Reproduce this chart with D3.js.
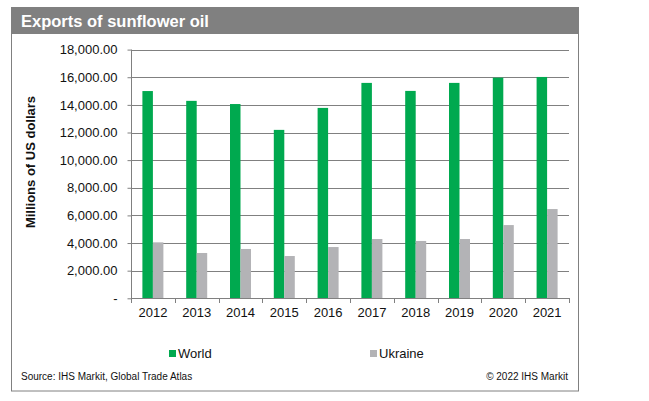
<!DOCTYPE html>
<html><head><meta charset="utf-8">
<script src="https://cdn.jsdelivr.net/npm/d3@7/dist/d3.min.js"></script>
<style>body{margin:0;background:#fff;font-family:"Liberation Sans",Arial,sans-serif;}</style>
</head><body><svg id="c" width="649" height="401"></svg>
<script>
const years = ["2012","2013","2014","2015","2016","2017","2018","2019","2020","2021"];
const world = [15000,14290,14060,12190,13780,15590,15010,15590,15970,16020];
const ukraine = [4050,3280,3570,3060,3710,4290,4150,4290,5300,6460];
const seriesNames = ["World","Ukraine"];
const yTicks = [0,2000,4000,6000,8000,10000,12000,14000,16000,18000];

const svg = d3.select("#c");
const colors = ["#00A94F","#B3B3B6"];
// frame
svg.append("rect").attr("x",11.5).attr("y",7.5).attr("width",567).attr("height",383.5)
  .attr("fill","#fff").attr("stroke","#808080").attr("stroke-width",1);
svg.append("rect").attr("x",11).attr("y",7).attr("width",568).attr("height",27).attr("fill","#808080");
svg.append("text").attr("x",21).attr("y",27).attr("fill","#fff").attr("font-weight","bold")
  .attr("font-size",16.5).text("Exports of sunflower oil");

const x = d3.scaleBand().domain(years).range([131,569]).paddingInner(0).paddingOuter(0);
const y = d3.scaleLinear().domain([0,18000]).range([298.3,49.6]);
const xs = d3.scaleBand().domain(seriesNames).range([0,21]);

// gridlines
svg.append("g").selectAll("line").data(yTicks.slice(1)).join("line")
  .attr("x1",131).attr("x2",569).attr("y1",d=>Math.round(y(d))+0.5).attr("y2",d=>Math.round(y(d))+0.5)
  .attr("stroke","#808080").attr("stroke-width",1);

// bars
const data = years.map((yr,i)=>({yr, vals:[world[i],ukraine[i]]}));
const g = svg.append("g");
data.forEach(d=>{
  d.vals.forEach((v,j)=>{
    g.append("rect").attr("x",x(d.yr)+x.bandwidth()/2-10.5+xs(seriesNames[j]))
      .attr("width",xs.bandwidth()).attr("y",y(v)).attr("height",y(0)-y(v)).attr("fill",colors[j]);
  });
});

// y axis
const fmt = d=> d===0 ? "-" : d3.format(",.2f")(d);
const ya = svg.append("g").attr("transform","translate(131.5,0)")
  .call(d3.axisLeft(y).tickValues(yTicks).tickFormat(fmt).tickSize(4).tickPadding(10));
ya.select(".domain").attr("stroke","#808080").attr("d","M0,"+y(18000)+"V"+y(0));
ya.selectAll(".tick line").attr("stroke","#808080");
ya.selectAll("text").attr("font-size",13).attr("fill","#111").attr("font-family","Liberation Sans, Arial, sans-serif");

// x axis
const xa = svg.append("g").attr("transform","translate(0,298.5)")
  .call(d3.axisBottom(x).tickSize(0).tickPadding(9));
xa.select(".domain").attr("stroke","#808080").attr("d","M131,0H569");
xa.selectAll("text").attr("font-size",13).attr("fill","#111").attr("font-family","Liberation Sans, Arial, sans-serif");
svg.append("g").selectAll("line").data(years.concat(["end"])).join("line")
  .attr("x1",(d,i)=>Math.round(131+i*x.step())+0.5).attr("x2",(d,i)=>Math.round(131+i*x.step())+0.5)
  .attr("y1",298).attr("y2",303).attr("stroke","#808080");

// y title
svg.append("text").attr("transform","translate(35,162) rotate(-90)").attr("text-anchor","middle")
  .attr("font-weight","bold").attr("font-size",13).attr("fill","#111").text("Millions of US dollars");

// legend
const legX = [169,370];
seriesNames.forEach((n,i)=>{
  svg.append("rect").attr("x",legX[i]).attr("y",350).attr("width",7).attr("height",7).attr("fill",colors[i]);
  svg.append("text").attr("x",legX[i]+9).attr("y",358).attr("font-size",13).attr("fill","#111").text(n);
});

// footer
svg.append("text").attr("x",21).attr("y",380).attr("font-size",10).attr("fill","#111").text("Source: IHS Markit, Global Trade Atlas");
svg.append("text").attr("x",568).attr("y",380).attr("text-anchor","end").attr("font-size",10).attr("fill","#111").text("© 2022 IHS Markit");
</script></body></html>
